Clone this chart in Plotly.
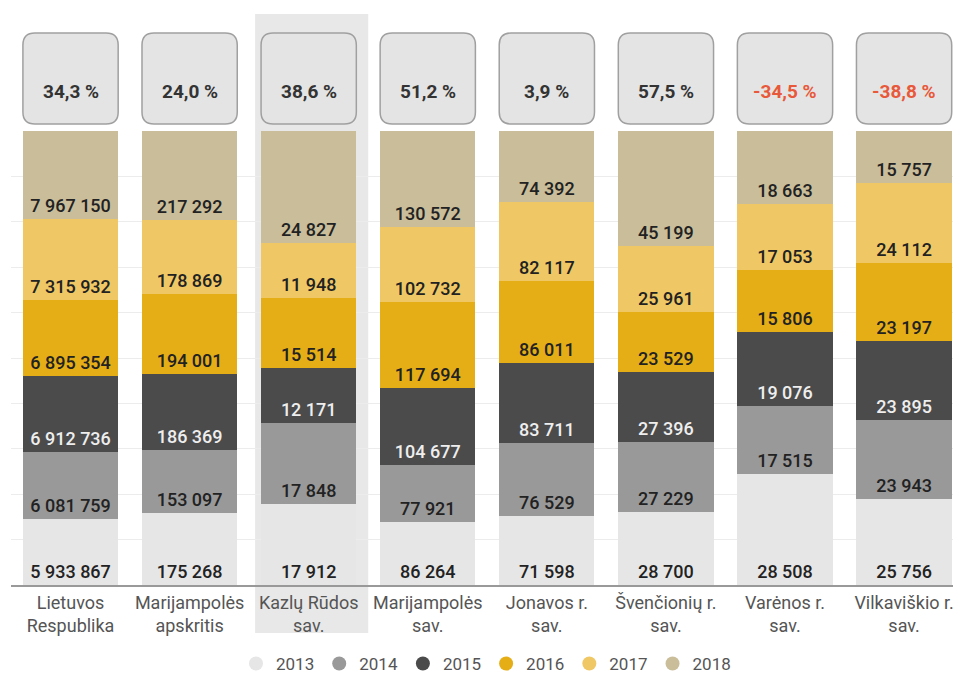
import plotly.graph_objects as go

categories = ["Lietuvos<br>Respublika", "Marijampolės<br>apskritis", "Kazlų Rūdos<br>sav.",
              "Marijampolės<br>sav.", "Jonavos r.<br>sav.", "Švenčionių r.<br>sav.",
              "Varėnos r.<br>sav.", "Vilkaviškio r.<br>sav."]
years = ["2013", "2014", "2015", "2016", "2017", "2018"]
v2013 = [5933867, 175268, 17912, 86264, 71598, 28700, 28508, 25756]
v2014 = [6081759, 153097, 17848, 77921, 76529, 27229, 17515, 23943]
v2015 = [6912736, 186369, 12171, 104677, 83711, 27396, 19076, 23895]
v2016 = [6895354, 194001, 15514, 117694, 86011, 23529, 15806, 23197]
v2017 = [7315932, 178869, 11948, 102732, 82117, 25961, 17053, 24112]
v2018 = [7967150, 217292, 24827, 130572, 74392, 45199, 18663, 15757]
change_pct = [34.3, 24.0, 38.6, 51.2, 3.9, 57.5, -34.5, -38.8]
highlight_index = 2

series = [v2013, v2014, v2015, v2016, v2017, v2018]
colors = ["#e6e6e6", "#999999", "#4b4b4b", "#e5ae17", "#efc865", "#c9bd9a"]
text_colors = ["#222222", "#222222", "#eeeeee", "#222222", "#222222", "#222222"]

xs = list(range(len(categories)))


def fmt(v):
    return f"{v:,}".replace(",", " ")


fig = go.Figure()
for yr, vals, col, tcol in zip(years, series, colors, text_colors):
    fig.add_trace(go.Bar(
        x=xs, y=vals, name=yr, marker=dict(color=col, line=dict(width=0)),
        width=0.8, text=[fmt(v) for v in vals], textposition="inside",
        insidetextanchor="start", textangle=0, constraintext="none",
        textfont=dict(family="Roboto", size=18, color=tcol, weight=500),
        showlegend=False, hoverinfo="skip"))

for yr, col in zip(years, colors):
    fig.add_trace(go.Scatter(x=[None], y=[None], mode="markers", name=yr,
                             marker=dict(color=col, size=14, symbol="circle")))

# the figure div sits 8 px inside the page (body margin)
OFF = 8
W, H = 961 - OFF, 677 - OFF
top_px, bottom_px = 131, 585
ph = bottom_px - top_px


def py(px):
    return (bottom_px - px) / ph


shapes = []
shapes.append(dict(type="rect", xref="x", yref="paper",
                   x0=highlight_index - 0.45, x1=highlight_index + 0.5,
                   y0=py(633), y1=py(14), fillcolor="#e8e8e8",
                   line=dict(width=0), layer="below"))

rx = 12 / 119.0
ry = 12 / ph
b_top, b_bot = py(33), py(124)
annotations = []
for i, c in enumerate(change_pct):
    x0, x1 = i - 0.4, i + 0.4
    path = (f"M {x0+rx},{b_bot} L {x1-rx},{b_bot} Q {x1},{b_bot} {x1},{b_bot+ry} "
            f"L {x1},{b_top-ry} Q {x1},{b_top} {x1-rx},{b_top} "
            f"L {x0+rx},{b_top} Q {x0},{b_top} {x0},{b_top-ry} "
            f"L {x0},{b_bot+ry} Q {x0},{b_bot} {x0+rx},{b_bot} Z")
    shapes.append(dict(type="path", xref="x", yref="paper", path=path,
                       fillcolor="#e4e4e4", line=dict(color="#a0a0a0", width=1.5)))
    label = f"{c:.1f}".replace(".", ",") + " %"
    annotations.append(dict(x=i, y=py(78), xref="x", yref="paper", text=f"<b>{label}</b>",
                            showarrow=False,
                            font=dict(family="Roboto", size=19,
                                      color="#e8583a" if c < 0 else "#333333")))

fig.update_layout(
    width=W, height=H,
    margin=dict(l=11 - OFF, r=0, t=top_px - OFF, b=H - (bottom_px - OFF), autoexpand=False),
    barmode="stack", barnorm="percent",
    plot_bgcolor="rgba(0,0,0,0)", paper_bgcolor="white",
    shapes=shapes, annotations=annotations,
    font=dict(family="Roboto", color="#555555"),
    legend=dict(orientation="h", x=0.5, xanchor="center",
                yref="container", y=(H - (664 - OFF)) / H, yanchor="middle",
                font=dict(size=17, color="#555555"), itemclick=False,
                traceorder="normal"),
    xaxis=dict(range=[-0.5, 7.478], tickvals=xs, ticktext=categories,
               tickfont=dict(size=18, color="#555555"), showgrid=False,
               showline=True, linecolor="#999999", linewidth=2, zeroline=False,
               fixedrange=True, automargin=False),
    yaxis=dict(range=[0, 100], dtick=10, showticklabels=False, gridcolor="#ececec",
               gridwidth=1, zeroline=False, fixedrange=True, automargin=False),
)

fig.write_html("out.html")
